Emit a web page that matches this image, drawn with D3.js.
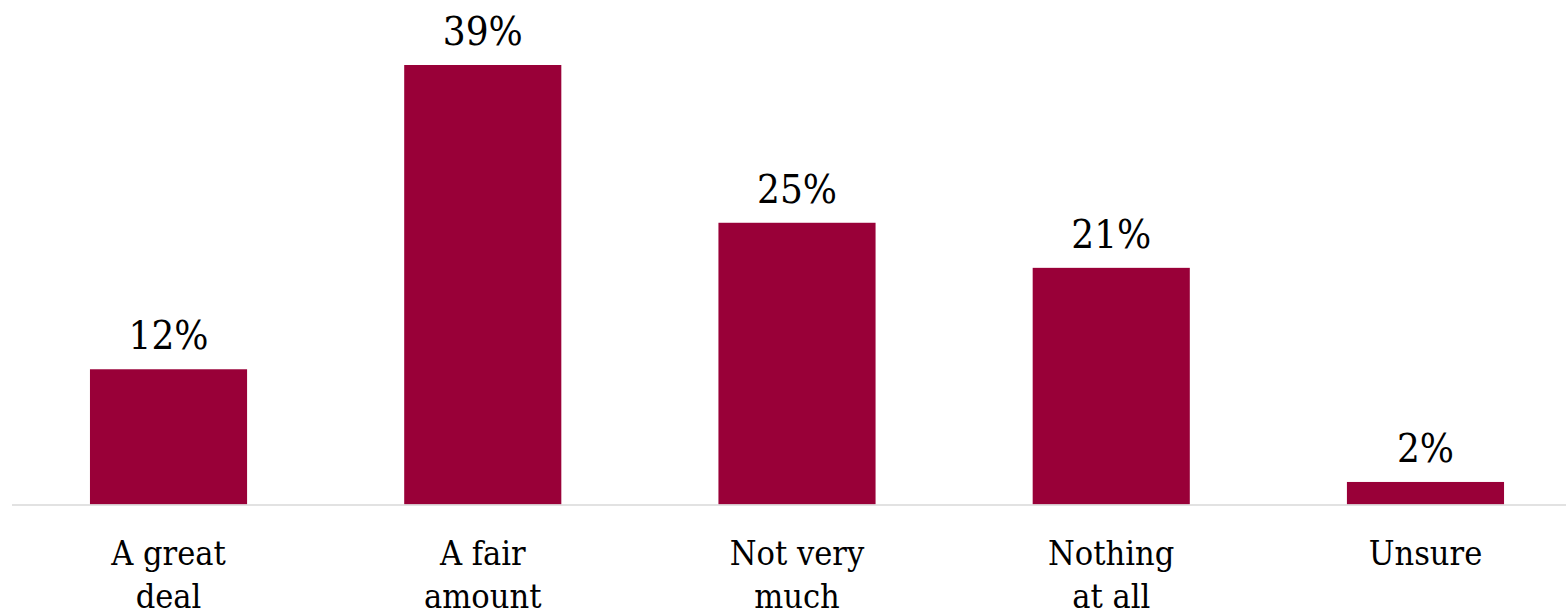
<!DOCTYPE html>
<html>
<head>
<meta charset="utf-8">
<script src="https://cdn.jsdelivr.net/npm/d3@7"></script>
<style>
  html, body { margin: 0; padding: 0; background: #fff; }
  svg { display: block; }
  text { font-family: "DejaVu Serif Condensed", "DejaVu Serif", "Liberation Serif", serif; fill: #000; }
</style>
</head>
<body>
<svg id="chart" width="1566" height="611"></svg>
<script>
const categories = [["A great", "deal"], ["A fair", "amount"], ["Not very", "much"], ["Nothing", "at all"], ["Unsure"]];
const values = [12, 39, 25, 21, 2];

const W = 1566, H = 611;
const baseline = 504.5;
const svg = d3.select("#chart");

const x = d3.scaleBand()
  .domain(d3.range(values.length))
  .range([11.4, 1582.6])
  .paddingInner(0.5)
  .paddingOuter(0.25);

const y = d3.scaleLinear()
  .domain([0, 39])
  .range([baseline, 65]);

// bars
svg.append("g")
  .selectAll("rect")
  .data(values)
  .join("rect")
  .attr("x", (d, i) => x(i))
  .attr("y", d => y(d))
  .attr("width", x.bandwidth())
  .attr("height", d => baseline - y(d))
  .attr("fill", "#990038");

// category axis line
svg.append("line")
  .attr("x1", 12).attr("x2", W)
  .attr("y1", baseline + 0.5).attr("y2", baseline + 0.5)
  .attr("stroke", "#d9d9d9")
  .attr("stroke-width", 1.5);

// value labels
svg.append("g")
  .selectAll("text")
  .data(values)
  .join("text")
  .attr("x", (d, i) => x(i) + x.bandwidth() / 2)
  .attr("y", d => y(d) - 20)
  .attr("text-anchor", "middle")
  .attr("font-size", 40)
  .text(d => d + "%");

// category labels (two lines)
const cat = svg.append("g")
  .selectAll("text")
  .data(categories)
  .join("text")
  .attr("x", (d, i) => x(i) + x.bandwidth() / 2)
  .attr("y", 565)
  .attr("text-anchor", "middle")
  .attr("font-size", 34);
cat.selectAll("tspan")
  .data(d => d)
  .join("tspan")
  .attr("x", function() { return this.parentNode.getAttribute("x"); })
  .attr("dy", (d, i) => i === 0 ? 0 : 43)
  .text(d => d);
</script>
</body>
</html>
